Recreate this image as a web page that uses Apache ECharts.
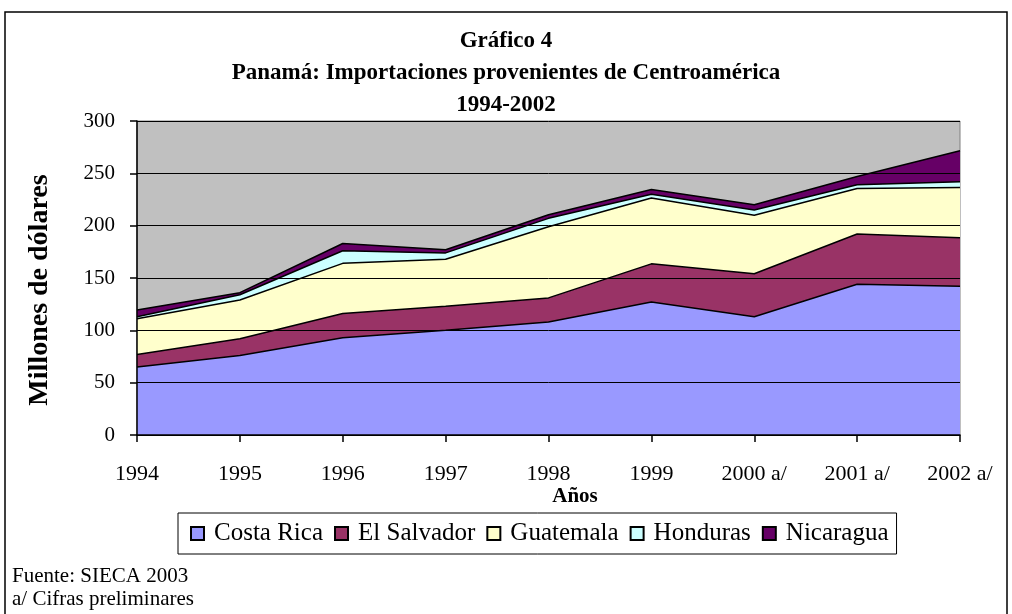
<!DOCTYPE html>
<html style="height: 100%">
<head>
    <meta charset="utf-8">
</head>
<body style="height: 100%; margin: 0; background: #fff">
<div id="container" style="width: 1012px; height: 614px"></div>
<script type="text/javascript" src="https://cdn.jsdelivr.net/npm/echarts@6/dist/echarts.min.js"></script>
<script type="text/javascript">
    // datos (millones de dolares)
    var years = ['1994', '1995', '1996', '1997', '1998', '1999', '2000 a/', '2001 a/', '2002 a/'];
    var costaRica = [65, 76, 93, 100, 108, 127, 113, 144, 142];
    var elSalvador = [12, 16, 23, 23, 23, 36.5, 41, 48, 46.5];
    var guatemala = [34, 37, 48, 45, 68, 63, 56, 43.5, 48];
    var honduras = [2, 5, 12, 6, 8, 3.5, 5, 3.5, 5.5];
    var nicaragua = [6.5, 2, 7, 3, 3.5, 4.5, 5, 8, 29.5];
    var yTicks = [0, 50, 100, 150, 200, 250, 300];
    var titleLines = ['Gráfico 4', 'Panamá: Importaciones provenientes de Centroamérica', '1994-2002'];

    var serif = '"Liberation Serif", "DejaVu Serif", serif';
    var myChart = echarts.init(document.getElementById("container"));

    function areaSerie(name, data, color) {
        return {
            name: name,
            type: 'line',
            stack: 'total',
            data: data,
            showSymbol: false,
            symbol: 'none',
            lineStyle: {color: '#000', width: 1.5},
            areaStyle: {color: color, opacity: 1},
            itemStyle: {color: color, borderColor: '#000', borderWidth: 1},
            z: 2
        };
    }

    function label(text, x, y, font, align, rot) {
        return {
            type: 'text',
            x: x,
            y: y,
            rotation: rot || 0,
            silent: true,
            style: {text: text, font: font, fill: '#000', align: align || 'left', verticalAlign: 'middle'}
        };
    }

    var option = {
        animation: false,
        textStyle: {fontFamily: serif},
        graphic: [
            {
                type: 'rect',
                shape: {x: 5, y: 12, width: 1002, height: 610},
                style: {fill: null, stroke: '#000', lineWidth: 1.5},
                silent: true
            },
            label(titleLines[0], 506, 41, 'bold 23px ' + serif, 'center'),
            label(titleLines[1], 506, 73, 'bold 23px ' + serif, 'center'),
            label(titleLines[2], 506, 105, 'bold 23px ' + serif, 'center'),
            label('Años', 575, 497, 'bold 21px ' + serif, 'center'),
            label('Millones de dólares', 40, 290, 'bold 28px ' + serif, 'center', Math.PI / 2),
            label('Fuente: SIECA 2003', 12, 576, '21px ' + serif),
            label('a/ Cifras preliminares', 12, 599, '21px ' + serif)
        ],
        legend: {
            left: 178,
            top: 513,
            padding: [8, 8, 8, 12],
            itemGap: 11,
            itemWidth: 13,
            itemHeight: 13,
            borderColor: '#000',
            borderWidth: 1,
            icon: 'rect',
            textStyle: {fontFamily: serif, fontSize: 25, color: '#000', padding: [0, 0, 0, 5]},
            data: ['Costa Rica', 'El Salvador', 'Guatemala', 'Honduras', 'Nicaragua']
        },
        grid: {
            left: 137,
            right: 52,
            top: 121,
            bottom: 179,
            show: true,
            backgroundColor: '#c0c0c0',
            borderColor: '#808080',
            borderWidth: 1
        },
        xAxis: {
            type: 'category',
            boundaryGap: false,
            data: years,
            axisLine: {lineStyle: {color: '#000', width: 1.5}},
            axisTick: {show: true, alignWithLabel: true, length: 7, lineStyle: {color: '#000', width: 1.5}},
            axisLabel: {fontFamily: serif, fontSize: 22, color: '#000', margin: 28, interval: 0},
            z: 10
        },
        yAxis: {
            type: 'value',
            min: yTicks[0],
            max: yTicks[yTicks.length - 1],
            interval: 50,
            axisLine: {show: true, lineStyle: {color: '#000', width: 1.5}},
            axisTick: {show: true, length: 7, lineStyle: {color: '#000', width: 1.5}},
            axisLabel: {fontFamily: serif, fontSize: 21, color: '#000', margin: 22},
            splitLine: {show: true, lineStyle: {color: '#000', width: 1}},
            z: 10
        },
        series: [
            areaSerie('Costa Rica', costaRica, '#9999ff'),
            areaSerie('El Salvador', elSalvador, '#993366'),
            areaSerie('Guatemala', guatemala, '#ffffcc'),
            areaSerie('Honduras', honduras, '#ccffff'),
            areaSerie('Nicaragua', nicaragua, '#660066')
        ]
    };

    myChart.setOption(option);
</script>
</body>
</html>
